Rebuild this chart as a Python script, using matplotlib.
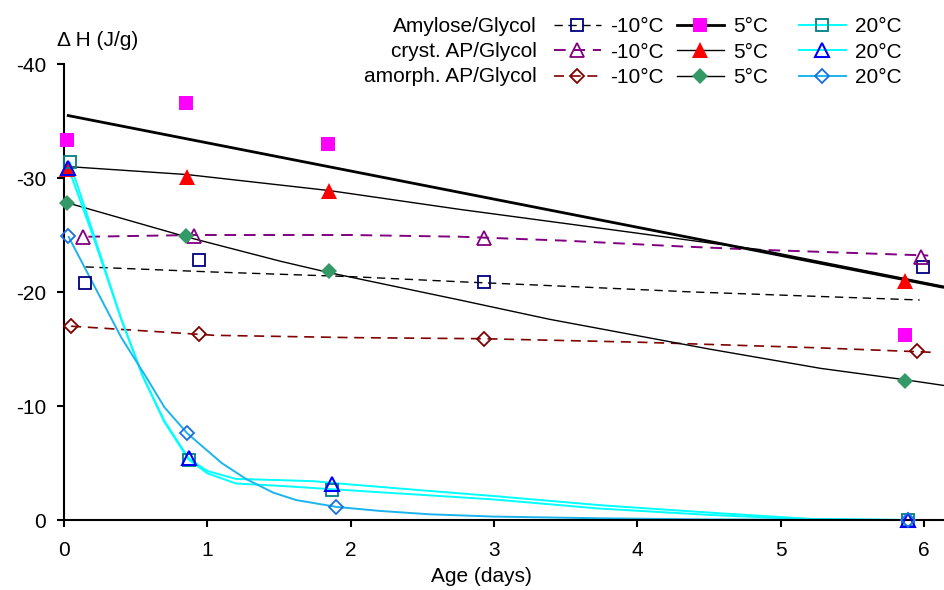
import matplotlib
matplotlib.use("Agg")
import matplotlib.pyplot as plt
from matplotlib.lines import Line2D

plt.rcParams['font.family'] = ['Liberation Sans', 'DejaVu Sans']
plt.rcParams['axes.unicode_minus'] = False

# measured points (age in days, enthalpy in J/g)
amy_m10_x = [0.15, 0.94, 2.93, 5.99]
amy_m10_y = [-20.8, -22.8, -20.9, -22.2]
cry_m10_x = [0.13, 0.91, 2.93, 5.98]
cry_m10_y = [-24.8, -24.9, -24.7, -23.1]
amo_m10_x = [0.05, 0.94, 2.93, 5.95]
amo_m10_y = [-17.0, -16.3, -15.9, -14.8]

amy_5_x = [0.02, 0.85, 1.84, 5.87]
amy_5_y = [-33.3, -36.6, -33.0, -16.2]
cry_5_x = [0.02, 0.86, 1.85, 5.87]
cry_5_y = [-30.8, -30.1, -28.9, -21.0]
amo_5_x = [0.02, 0.85, 1.85, 5.87]
amo_5_y = [-27.8, -24.9, -21.8, -12.2]

amy_20_x = [0.04, 0.87, 1.87, 5.89]
amy_20_y = [-31.4, -5.3, -2.6, 0.0]
cry_20_x = [0.03, 0.87, 1.87, 5.89]
cry_20_y = [-30.9, -5.4, -3.2, 0.0]
amo_20_x = [0.03, 0.86, 1.90, 5.89]
amo_20_y = [-24.9, -7.6, -1.1, 0.0]

# trend curves
amy_m10_tx = [0.15, 1.05, 2.0, 2.76, 3.5, 4.39, 5.97]
amy_m10_ty = [-22.2, -21.75, -21.35, -20.9, -20.5, -20.0, -19.3]
cry_m10_tx = [0.17, 0.91, 2.0, 2.76, 3.5, 4.3, 4.86, 6.03]
cry_m10_ty = [-24.85, -25.0, -25.0, -24.85, -24.5, -24.0, -23.7, -23.2]
amo_m10_tx = [0.05, 1.05, 2.0, 2.93, 4.0, 5.27, 6.08]
amo_m10_ty = [-17.0, -16.2, -16.0, -15.9, -15.6, -15.1, -14.7]

amy_5_tx = [0.02, 6.14]
amy_5_ty = [-35.5, -20.4]
cry_5_tx = [0.03, 0.86, 1.85, 2.76, 3.8, 4.86, 6.14]
cry_5_ty = [-31.0, -30.3, -28.9, -27.25, -25.5, -23.7, -20.5]
amo_5_tx = [0.03, 0.85, 1.51, 1.85, 2.76, 3.39, 4.5, 5.28, 5.87, 6.14]
amo_5_ty = [-27.8, -24.85, -22.7, -21.7, -19.3, -17.6, -15.0, -13.3, -12.3, -11.8]

amy_20_tx = [0.04, 0.2, 0.4, 0.55, 0.7, 0.87, 1.0, 1.2, 1.5, 1.87, 2.5, 3.0, 3.74, 4.5, 5.2, 5.89, 6.14]
amy_20_ty = [-31.4, -25.3, -17.6, -12.6, -8.6, -5.3, -4.1, -3.2, -3.0, -2.7, -2.2, -1.8, -1.0, -0.45, -0.05, 0.0, 0.05]
cry_20_tx = [0.03, 0.2, 0.4, 0.55, 0.7, 0.87, 1.0, 1.2, 1.5, 1.75, 1.87, 2.5, 3.0, 3.74, 4.5, 5.2, 5.89, 6.14]
cry_20_ty = [-30.9, -25.0, -17.6, -12.6, -8.7, -5.4, -4.3, -3.6, -3.5, -3.4, -3.25, -2.6, -2.1, -1.3, -0.65, -0.1, 0.0, 0.05]
amo_20_tx = [0.03, 0.2, 0.4, 0.58, 0.7, 0.86, 1.1, 1.27, 1.46, 1.62, 1.9, 2.2, 2.55, 3.0, 3.74, 4.5, 5.89, 6.14]
amo_20_ty = [-24.9, -20.8, -16.0, -12.4, -9.9, -7.6, -5.0, -3.6, -2.4, -1.75, -1.15, -0.8, -0.5, -0.3, -0.15, -0.05, 0.0, 0.0]

x_ticks = [0, 1, 2, 3, 4, 5, 6]
y_ticks = [0, -10, -20, -30, -40]
row_names = ["Amylose/Glycol", "cryst. AP/Glycol", "amorph. AP/Glycol"]

W, H = 944, 590
fig = plt.figure(figsize=(W / 100, H / 100), dpi=100)
ax = fig.add_axes([64 / W, 1 - 520 / H, 880 / W, 456 / H])

cyan = '#00FFFF'
sky = '#1CB4EE'
dash = (0, (6, 4))

# (trend x, trend y, point x, point y, line kw, marker kw)
series = [
    (amy_m10_tx, amy_m10_ty, amy_m10_x, amy_m10_y,
     dict(color='black', lw=1.0, ls=dash), dict(marker='s', ms=8.5, mfc='none', mec='#000080', mew=1.3)),
    (cry_m10_tx, cry_m10_ty, cry_m10_x, cry_m10_y,
     dict(color='#800080', lw=1.4, ls=dash), dict(marker='^', ms=10, mfc='none', mec='#800080', mew=1.3)),
    (amo_m10_tx, amo_m10_ty, amo_m10_x, amo_m10_y,
     dict(color='#800000', lw=1.2, ls=dash), dict(marker='D', ms=7.5, mfc='none', mec='#800000', mew=1.3)),
    (amy_5_tx, amy_5_ty, amy_5_x, amy_5_y,
     dict(color='black', lw=2.0, ls='-'), dict(marker='s', ms=9.5, mfc='#FF00FF', mec='#FF00FF', mew=0)),
    (cry_5_tx, cry_5_ty, cry_5_x, cry_5_y,
     dict(color='black', lw=1.0, ls='-'), dict(marker='^', ms=11, mfc='#FF0000', mec='#FF0000', mew=0)),
    (amo_5_tx, amo_5_ty, amo_5_x, amo_5_y,
     dict(color='black', lw=1.0, ls='-'), dict(marker='D', ms=8.5, mfc='#339966', mec='#339966', mew=0)),
    (amy_20_tx, amy_20_ty, amy_20_x, amy_20_y,
     dict(color=cyan, lw=1.4, ls='-'), dict(marker='s', ms=8.5, mfc='none', mec='#008080', mew=1.3)),
    (cry_20_tx, cry_20_ty, cry_20_x, cry_20_y,
     dict(color=cyan, lw=1.4, ls='-'), dict(marker='^', ms=10, mfc='none', mec='#0000FF', mew=1.5)),
    (amo_20_tx, amo_20_ty, amo_20_x, amo_20_y,
     dict(color=sky, lw=1.4, ls='-'), dict(marker='D', ms=7.5, mfc='none', mec='#1A6FDF', mew=1.3)),
]

handles = []
for tx, ty, px, py, lkw, mkw in series:
    ax.plot(tx, ty, solid_capstyle='butt', **lkw)
    ax.plot(px, py, ls='none', clip_on=False, zorder=3, **mkw)
    handles.append(Line2D([], [], **lkw, **mkw))

ax.set_xlim(0, 6.14)
ax.set_ylim(0, -40)
ax.set_xticks(x_ticks)
ax.set_yticks(y_ticks)
ax.set_xticklabels([str(v) for v in x_ticks])
ax.set_yticklabels([str(v) for v in y_ticks])
ax.tick_params(axis='both', direction='out', length=5, width=1.5, labelsize=15)
ax.tick_params(axis='x', pad=10)
ax.tick_params(axis='y', pad=8)
for s in ['top', 'right']:
    ax.spines[s].set_visible(False)
for s in ['left', 'bottom']:
    ax.spines[s].set_linewidth(1.5)

fig.text(481 / W, 1 - 577 / H, "Age (days)", ha='center', va='center', fontsize=15)
fig.text(57 / W, 1 - 40 / H, "\u0394 H (J/g)", ha='left', va='center', fontsize=15)

# legend: one column per temperature, row names on the left
temps = ["-10\u00b0C", "5\u00b0C", "20\u00b0C"]
col_x = [554, 677, 799]
for i in range(3):
    fig.legend(handles[3 * i:3 * i + 3], [temps[i]] * 3, loc='upper left',
               bbox_to_anchor=(col_x[i] / W, 1 - 17 / H), frameon=False, fontsize=15,
               borderpad=0, borderaxespad=0, handlelength=2.25, handletextpad=0.45,
               labelspacing=0.32)
for j, name in enumerate(row_names):
    fig.text(537 / W, 1 - (26.5 + 25 * j) / H, name, ha='right', va='center', fontsize=15)

fig.savefig("out.png", dpi=100)
